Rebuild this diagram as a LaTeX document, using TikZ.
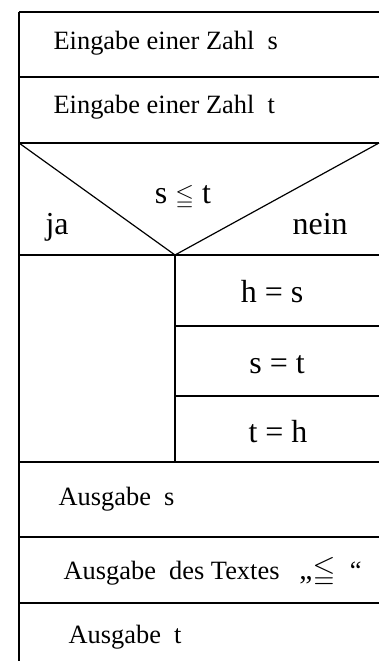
\documentclass[tikz,border=0pt]{standalone}
\usepackage{amssymb}
\usepackage{fontspec}
\setmainfont{Liberation Serif}

\begin{document}
\begin{tikzpicture}[x=0.75pt,y=-0.75pt,line width=0.9pt,
    font=\fontsize{19.8}{23}\selectfont,
    txt/.style={anchor=base west,inner sep=0pt},
    ctxt/.style={anchor=base,inner sep=0pt},
    big/.style={font=\fontsize{24}{28}\selectfont}]
  \useasboundingbox (0,0) rectangle (379,661);
  % frame and rows
  \draw (19,12) -- (19,661);
  \foreach \ypos in {12,77,143,255,462,537,603}
    \draw (19,\ypos) -- (379,\ypos);
  % branch s <= t
  \draw (19,143) -- (175,255) -- (379,143);
  \draw (175,255) -- (175,462);
  \foreach \ypos in {326,396}
    \draw (175,\ypos) -- (379,\ypos);
  % texts
  \node[txt] (ein1) at (53,49) {Eingabe einer Zahl~~s};
  \node[txt] (ein2) at (53,113) {Eingabe einer Zahl~~t};
  \node[ctxt,big] (cond) at (183,203)
    {s {\fontsize{18}{20}\selectfont$\leqq$} t};
  \node[txt,big] (ja) at (45,234) {ja};
  \node[txt,big] (nein) at (292,234) {nein};
  \node[ctxt,big] (hs) at (272,302) {h = s};
  \node[ctxt,big] (st) at (277,373) {s = t};
  \node[ctxt,big] (th) at (278,442) {t = h};
  \node[txt] (aus1) at (58,505) {Ausgabe~~s};
  \node[txt] (aus2) at (63,579)
    {Ausgabe~~des Textes\hspace{15pt}{\fontsize{22}{24}\selectfont„$\leqq$}\hspace{11pt}“};
  \node[txt] (aus3) at (68,643) {Ausgabe~~t};
\end{tikzpicture}
\end{document}
